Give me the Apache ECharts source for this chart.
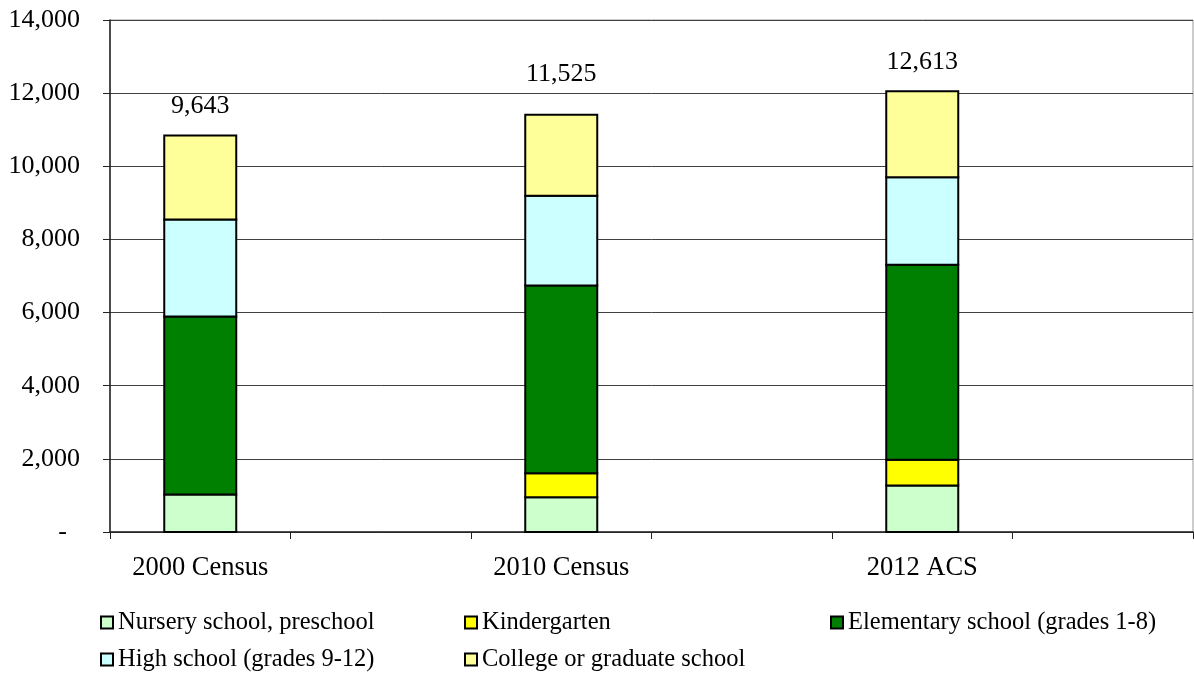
<!DOCTYPE html>
<html>
<head>
<meta charset="utf-8">
<title>School enrollment</title>
<script src="https://cdn.jsdelivr.net/npm/echarts@6/dist/echarts.min.js"></script>
<style>
  html, body { margin: 0; padding: 0; background: #fff; }
  #chart { width: 1194px; height: 673px; }
</style>
</head>
<body>
<div id="chart"></div>
<script>
// Enrollment by level of school, stacked per survey
const categories = ['2000 Census', '2010 Census', '2012 ACS'];
const nursery = [1025, 952, 1272];
const kindergarten = [null, 656, 702];
const elementary = [4868, 5133, 5333];
const highSchool = [2653, 2452, 2395];
const college = [2297, 2215, 2352];
const totals = [9643, 11525, 12613];

const seriesNames = [
  'Nursery school, preschool',
  'Kindergarten',
  'Elementary school (grades 1-8)',
  'High school (grades 9-12)',
  'College or graduate school'
];
const seriesColors = ['#CCFFCC', '#FFFF00', '#008000', '#CCFFFF', '#FFFF99'];
const seriesValues = [nursery, kindergarten, elementary, highSchool, college];

// gap above each bar for its total label
const totalLabelGap = [16, 28, 16];
const BAR_WIDTH = 72;

const FONT = 'Liberation Serif, "Times New Roman", serif';

// each survey takes one slot, followed by an empty slot
const axisCats = [];
categories.forEach(c => { axisCats.push(c, ''); });

// stacked segments: [slot, base, top, surveyIndex]; shared edges get one outline
const runningBase = categories.map(() => 0);
const segmentData = seriesValues.map(vals => {
  const rows = [];
  vals.forEach((v, i) => {
    if (v == null) return;
    rows.push([i * 2, runningBase[i], runningBase[i] + v, i]);
    runningBase[i] += v;
  });
  return rows;
});

const series = seriesValues.map((vals, s) => {
  const isTop = s === seriesValues.length - 1;
  const color = seriesColors[s];
  return {
    name: seriesNames[s],
    type: 'custom',
    itemStyle: { color: color, borderColor: '#000', borderWidth: 2 },
    emphasis: { disabled: true },
    encode: { x: 0, y: [1, 2] },
    data: segmentData[s],
    renderItem: (params, api) => {
      const slot = api.value(0);
      const lo = api.coord([slot, api.value(1)]);
      const hi = api.coord([slot, api.value(2)]);
      const rect = {
        type: 'rect',
        shape: { x: lo[0] - BAR_WIDTH / 2, y: hi[1], width: BAR_WIDTH, height: lo[1] - hi[1] },
        style: { fill: color, stroke: '#000', lineWidth: 2 }
      };
      if (!isTop) return rect;
      const k = api.value(3);
      return {
        type: 'group',
        children: [rect, {
          type: 'text',
          x: lo[0],
          y: hi[1] - totalLabelGap[k],
          style: {
            text: totals[k].toLocaleString('en-US'),
            font: '26px ' + FONT,
            fill: '#000',
            align: 'center',
            verticalAlign: 'bottom'
          }
        }]
      };
    }
  };
});

// legend laid out as a 3-column grid
const legendSlots = [
  { left: 100, top: 610 },
  { left: 464, top: 610 },
  { left: 830, top: 610 },
  { left: 100, top: 647 },
  { left: 464, top: 647 }
];
const legends = seriesNames.map((n, i) => ({
  data: [n],
  left: legendSlots[i].left,
  top: legendSlots[i].top,
  padding: 0,
  itemWidth: 12,
  itemHeight: 12,
  icon: 'rect',
  selectedMode: false,
  itemStyle: { color: seriesColors[i], borderColor: '#000', borderWidth: 2 },
  textStyle: { fontFamily: FONT, fontSize: 24.5, color: '#000', lineHeight: 24 }
}));

const chart = echarts.init(document.getElementById('chart'), null, { renderer: 'canvas' });
chart.setOption({
  animation: false,
  backgroundColor: '#fff',
  grid: {
    left: 110, right: 1, top: 20, bottom: 141,
    show: true, borderColor: '#999', borderWidth: 1
  },
  legend: legends,
  xAxis: {
    type: 'category',
    data: axisCats,
    axisLine: { lineStyle: { color: '#222', width: 1.5 } },
    axisTick: { show: true, length: 7, interval: 0, lineStyle: { color: '#222' } },
    axisLabel: { interval: 0, margin: 23, fontFamily: FONT, fontSize: 26.5, color: '#000' }
  },
  yAxis: {
    type: 'value',
    min: 0,
    max: 14000,
    interval: 2000,
    axisLine: { show: true, lineStyle: { color: '#222', width: 1.5 } },
    axisTick: { show: true, length: 7, lineStyle: { color: '#222' } },
    splitLine: { lineStyle: { color: '#404040', width: 1 } },
    axisLabel: {
      margin: 30,
      fontFamily: FONT,
      fontSize: 26,
      color: '#000',
      formatter: v => v === 0 ? '-  ' : v.toLocaleString('en-US')
    }
  },
  series: series
});
</script>
</body>
</html>
